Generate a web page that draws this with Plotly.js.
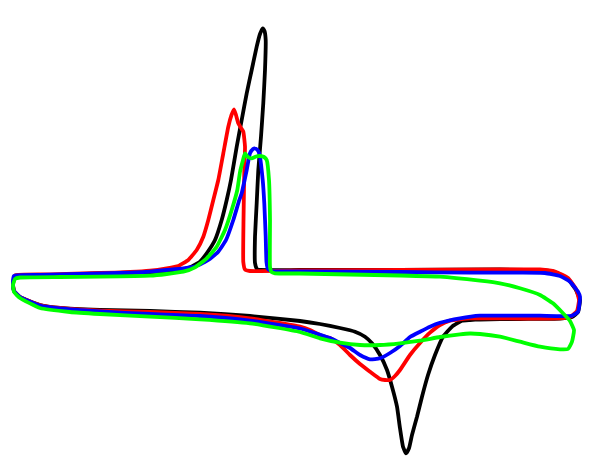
<!DOCTYPE html>
<html>
<head>
<meta charset="utf-8">
<script src="https://cdn.plot.ly/plotly-3.0.1.min.js"></script>
<style>html,body{margin:0;padding:0;background:#fff;}#chart{width:591px;height:463px;}</style>
</head>
<body>
<div id="chart"></div>
<script>
// Values (potential E, current I; arbitrary units, I axis downward)
const blackE = [15,30,60,100,140,160,180,190,200,208.3,215,221.7,226.7,231,236.7,241.7,246.7,251.7,256.7,260,262.7,264.5,265.7,265,263.3,261,258.3,256.7,255,255,257,260,300,400,500,540,555,568,576,580,578,572,560,520,480,470,462,452,443,435,428,422,417,412,409,406,403,400,397,392,387,380,372,365,355,340,320,300,250,200,150,100,60,40,20,14,13,15];
const blackI = [276,275.5,275,273.5,272.5,271.5,270,267.3,261.7,251,240,220,200,180,146.7,120,93.3,70,46.7,34,28.3,31,40,70,103,136.7,170,203,236.7,263,269,270,270,270,269.5,270,272,279,290,300,312,317,318.5,319,319.5,320,320.7,326.7,336.7,355,375,396.7,416.7,435,448.3,453.3,446.7,428.3,406.7,386.7,370,355,343.3,336.7,331.7,328,324,321,316,312.7,311,310,308,305,297,291,284,276];

const redE = [15,50,100,130,150,166.7,178.3,188.3,196.7,203.3,208.3,213.3,218.3,223.3,228.3,231.5,234,236,238.3,241,243.3,245,244.3,243.5,243.3,245,250,300,400,500,540,555,568,576,579,577,570,560,520,480,470,450,440,430,420,410,400,395,390,385,380,370,360,350,340,330,320,310,300,250,200,150,100,60,40,20,14,13,15];
const redI = [275.5,274.5,273,272,270.7,268.3,266,260,250,236.7,220,200,180,153.3,126.7,115,109.3,115,123.3,128,131.7,146.7,170,220,262,269.5,271,270.5,270,269.3,269.5,271.5,278,289,300,311,317,318.3,318.5,318.3,318.3,320.7,325,332.7,343,355,370,376,380,380,379,371.7,364,355,345,338,335,330,326.7,318.3,314,312,310.7,308,305,297,291,284,275.5];

const blueE = [14,40,80,120,150,166.7,183.3,196.7,208.3,218.3,226,233.3,239.3,241.7,246.7,250,253,255,257.5,259.3,262.7,264.3,265.7,266.5,268,272,300,400,470,520,545,560,570,578,580,578,572,540,500,480,460,440,430,420,410,400,390,380,370,360,350,340,330,300,250,200,150,100,60,40,20,14,13,14];
const blueI = [276,275,274,273,271.7,270,268.3,266,260,251.7,240,220,200,193.3,170,153.3,149,148.3,150,153.3,180,203.3,236.7,262,269,271,271.5,272,272.7,272.7,273,276,281.7,291.7,296.7,311.7,315.7,315.7,315.7,315.7,318.3,322.8,326.7,331.7,337,346,353,358.3,359.3,355,348,343,338,328.5,320.7,316,314,311.5,308.5,305.5,297,291,285,276];

const greenE = [15,20,60,100,150,166.7,183.3,195,206.7,216.7,225,231.7,237.3,240,243,245,248,251.7,256,260,264,266.7,269,270,270,271.5,275,300,350,400,440,480,500,520,540,553,563,570,574,572,568,560,540,520,500,480,470,460,440,420,400,380,360,340,320,300,250,200,150,100,70,40,20,14,13,15];
const greenI = [279,277.5,277,276.7,275.7,274,271.7,267.3,258.3,246.7,230,210,190,172,160,153.3,157,158.3,156.5,156,157,160,180,220,266.7,272,273.3,273.5,274.5,275.5,276.7,280.7,283.3,288.3,295,303.3,313.3,321,330,341.7,349,349.3,346.7,341.7,336.7,334,333.5,334.3,337,340.7,343.3,345,345,342.7,338.3,332,323.3,319.3,316.7,314,312,308,298,292,285,279];

const names = ['black','red','blue','green'];
const colors = ['#000000','#ff0000','#0000ff','#00ff00'];
const Es = [blackE, redE, blueE, greenE];
const Is = [blackI, redI, blueI, greenI];

const traces = Es.map((E, k) => ({
  x: E, y: Is[k], type: 'scatter', mode: 'lines', name: names[k],
  line: {color: colors[k], width: 3.8, shape: 'spline', smoothing: 0.4}, hoverinfo: 'skip'
}));

Plotly.newPlot('chart', traces, {
  width: 591, height: 463,
  margin: {l: 0, r: 0, t: 0, b: 0},
  paper_bgcolor: '#ffffff', plot_bgcolor: '#ffffff',
  showlegend: false,
  xaxis: {range: [0, 591], visible: false, fixedrange: true},
  yaxis: {range: [463, 0], visible: false, fixedrange: true}
}, {staticPlot: true, displayModeBar: false});
</script>
</body>
</html>
